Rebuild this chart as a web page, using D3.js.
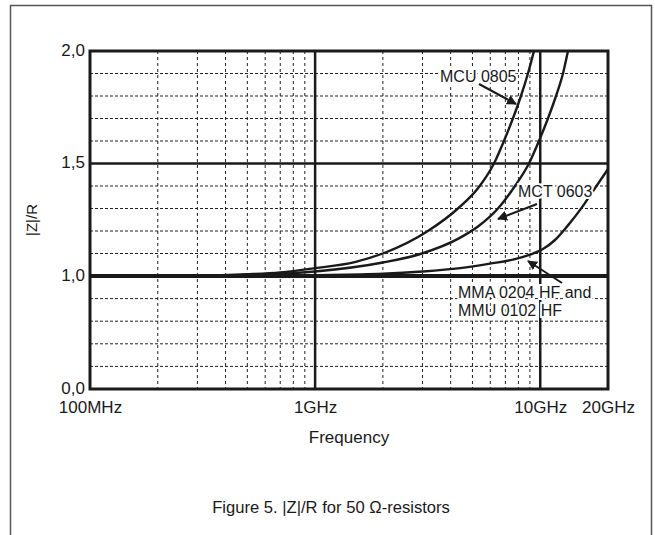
<!DOCTYPE html>
<html><head><meta charset="utf-8">
<script src="https://cdn.jsdelivr.net/npm/d3@7"></script>
<style>
html,body{margin:0;padding:0;background:#fff;}
svg{display:block;font-family:"Liberation Sans",Arial,Helvetica,sans-serif;}
</style></head>
<body><svg id="c" width="655" height="535"></svg>
<script>
// ---- data (frequency in Hz, |Z|/R) ----
const mcuFreq = [1e8, 3e8, 5e8, 7e8, 1e9, 1.5e9, 2e9, 3.17e9, 4.31e9, 5.29e9, 6.23e9, 6.9e9, 7.56e9, 8.21e9, 8.82e9, 9.38e9];
const mcuVal  = [1.0, 1.002, 1.008, 1.016, 1.035, 1.062, 1.1, 1.2, 1.3, 1.39, 1.5, 1.6, 1.7, 1.8, 1.9, 2.0];
const mctFreq = [1e8, 3e8, 5e8, 1e9, 2e9, 2.98e9, 4.31e9, 5.29e9, 6.49e9, 7.72e9, 8.91e9, 9.87e9, 10.82e9, 11.75e9, 12.62e9, 13.28e9];
const mctVal  = [1.0, 1.001, 1.004, 1.02, 1.06, 1.1, 1.165, 1.22, 1.3, 1.4, 1.5, 1.6, 1.7, 1.8, 1.9, 2.0];
const mmaFreq = [1e8, 5e8, 1e9, 2e9, 3e9, 4.4e9, 5.98e9, 7.72e9, 9.0e9, 10.28e9, 11.63e9, 13.28e9, 15.32e9, 17.5e9, 20e9];
const mmaVal  = [1.0, 1.001, 1.004, 1.01, 1.02, 1.035, 1.055, 1.075, 1.095, 1.12, 1.16, 1.225, 1.305, 1.39, 1.475];
const xTickValues = [1e8, 1e9, 1e10, 2e10];
const xTickLabels = ["100MHz", "1GHz", "10GHz", "20GHz"];
const yTickValues = [0, 1, 1.5, 2];
const yMinorValues = [0.2, 0.4, 0.6, 0.8, 1.1, 1.2, 1.3, 1.4, 1.6, 1.7, 1.8, 1.9];
const xMinorValues = [2e8,3e8,4e8,5e8,6e8,7e8,8e8,9e8,2e9,3e9,4e9,5e9,6e9,7e9,8e9,9e9];
const xMajorValues = [1e9, 1e10];
const yMajorValues = [1.0, 1.5];
const series = [
  {name:"MCU 0805", f:mcuFreq, v:mcuVal},
  {name:"MCT 0603", f:mctFreq, v:mctVal},
  {name:"MMA 0204 HF and MMU 0102 HF", f:mmaFreq, v:mmaVal}
];

const svg = d3.select("#c");
const L = 90, R = 608, T = 51, B = 389;
const x = d3.scaleLog().domain([1e8, 2e10]).range([L, R]);
const y = d3.scaleLinear().domain([0, 1, 2]).range([B, 276, T]);

svg.append("path").attr("d", "M10.5,540 V5.5 H651.5 V540")
  .attr("fill","none").attr("stroke","#555").attr("stroke-width",1.5);

svg.append("clipPath").attr("id","pc").append("rect")
  .attr("x",L).attr("y",T).attr("width",R-L).attr("height",B-T);

const g = svg.append("g");
g.selectAll(".hm").data(yMinorValues).join("line")
  .attr("x1",L).attr("x2",R).attr("y1",d=>y(d)).attr("y2",d=>y(d))
  .attr("stroke","#222").attr("stroke-width",1).attr("stroke-dasharray","3,2");
g.selectAll(".vm").data(xMinorValues).join("line")
  .attr("x1",d=>x(d)).attr("x2",d=>x(d)).attr("y1",T).attr("y2",B)
  .attr("stroke","#222").attr("stroke-width",1).attr("stroke-dasharray","3,3");
g.selectAll(".hM").data(yMajorValues).join("line")
  .attr("x1",L).attr("x2",R).attr("y1",d=>y(d)).attr("y2",d=>y(d))
  .attr("stroke","#1a1a1a").attr("stroke-width",d=>d===1?4:2.5);
g.selectAll(".vM").data(xMajorValues).join("line")
  .attr("x1",d=>x(d)).attr("x2",d=>x(d)).attr("y1",T).attr("y2",B)
  .attr("stroke","#1a1a1a").attr("stroke-width",2.5);

const line = d3.line().x(d=>x(d[0])).y(d=>y(d[1])).curve(d3.curveMonotoneX);
svg.append("g").attr("clip-path","url(#pc)").selectAll("path").data(series).join("path")
  .attr("d", s => line(s.f.map((f,i)=>[f, s.v[i]])))
  .attr("fill","none").attr("stroke","#1a1a1a").attr("stroke-width",2.4);

svg.append("rect").attr("x",L).attr("y",T).attr("width",R-L).attr("height",B-T)
  .attr("fill","none").attr("stroke","#1a1a1a").attr("stroke-width",3);

const fmt = d => d3.format(".1f")(d).replace(".", ",");
const ya = svg.append("g").attr("transform",`translate(${L-4},0)`)
  .call(d3.axisLeft(y).tickValues(yTickValues).tickSize(0).tickPadding(1).tickFormat(fmt));
ya.select(".domain").remove();
ya.selectAll("text").attr("font-size",17).attr("fill","#1a1a1a")
  .attr("font-family","'Liberation Sans',Arial,sans-serif").attr("dy","0.25em");

const xa = svg.append("g").attr("transform",`translate(0,${B+12})`)
  .call(d3.axisBottom(x).tickValues(xTickValues).tickSize(0).tickPadding(0)
    .tickFormat((d,i)=>xTickLabels[i]));
xa.select(".domain").remove();
xa.selectAll("text").attr("font-size",17).attr("fill","#1a1a1a")
  .attr("font-family","'Liberation Sans',Arial,sans-serif");

svg.append("text").attr("x",(L+R)/2).attr("y",443).attr("text-anchor","middle")
  .attr("font-size",17).attr("fill","#1a1a1a").text("Frequency");
svg.append("text").attr("transform",`translate(37,220) rotate(-90)`).attr("text-anchor","middle")
  .attr("font-size",15).attr("fill","#1a1a1a").text("|Z|/R");
svg.append("text").attr("x",331).attr("y",513).attr("text-anchor","middle")
  .attr("font-size",16.6).attr("fill","#1a1a1a").text("Figure 5. |Z|/R for 50 \u03A9-resistors");

const defs = svg.append("defs");
defs.append("marker").attr("id","ah").attr("viewBox","0 0 10 10").attr("refX",9).attr("refY",5)
  .attr("markerWidth",5).attr("markerHeight",5).attr("orient","auto")
  .append("path").attr("d","M0,0 L10,5 L0,10 z").attr("fill","#1a1a1a");

function annot(lines, tx, ty, from, to){
  const t = svg.append("text").attr("x",tx).attr("y",ty).attr("font-size",16).attr("fill","#1a1a1a")
    .attr("stroke","#fff").attr("stroke-width",4).attr("paint-order","stroke");
  lines.forEach((l,i)=>t.append("tspan").attr("x",tx).attr("dy",i?18:0).text(l));
  svg.append("line").attr("x1",from[0]).attr("y1",from[1]).attr("x2",to[0]).attr("y2",to[1])
    .attr("stroke","#1a1a1a").attr("stroke-width",2).attr("marker-end","url(#ah)");
}
annot(["MCU 0805"], 440, 82, [479,84], [516,104]);
annot(["MCT 0603"], 518, 197, [537,204], [498,219]);
annot(["MMA 0204 HF and","MMU 0102 HF"], 458, 298, [562,283], [528,261]);
</script></body></html>
